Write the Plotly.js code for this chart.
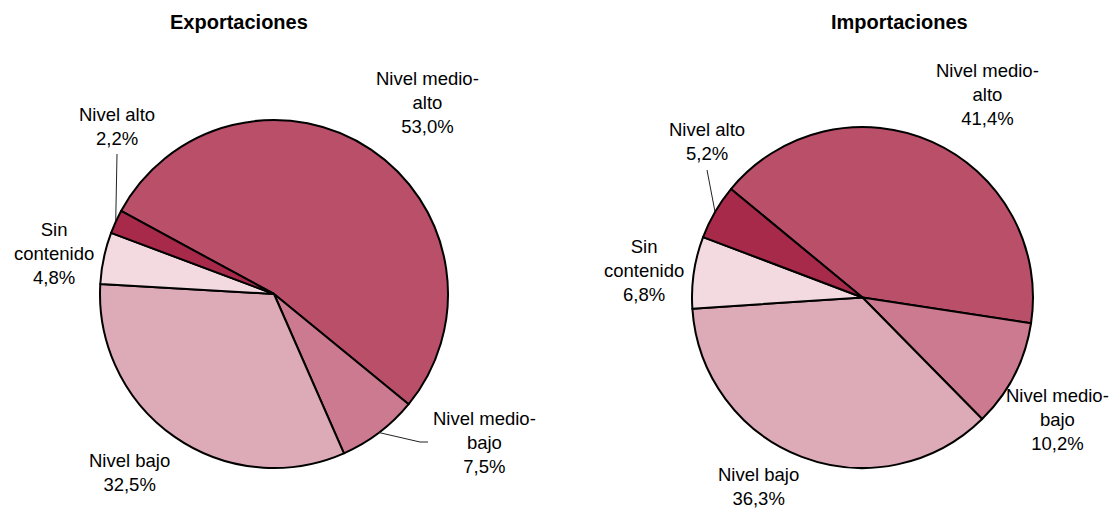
<!DOCTYPE html>
<html>
<head>
<meta charset="utf-8">
<script src="https://cdn.plot.ly/plotly-3.0.1.min.js"></script>
<style>html,body{margin:0;padding:0;background:#fff;}#chart{width:1110px;height:508px;}</style>
</head>
<body>
<div id="chart"></div>
<script>
// ---- data ----
const categories = ["Nivel medio-alto", "Nivel medio-bajo", "Nivel bajo", "Sin contenido", "Nivel alto"];
const labelText = ["Nivel medio-<br>alto", "Nivel medio-<br>bajo", "Nivel bajo", "Sin<br>contenido", "Nivel alto"];
const exportaciones = [53.0, 7.5, 32.5, 4.8, 2.2];
const importaciones = [41.4, 10.2, 36.3, 6.8, 5.2];
const chartTitles = ["Exportaciones", "Importaciones"];
const sliceColors = ["#B94F69", "#CC7A8F", "#DDAAB7", "#F2DAE0", "#A82A4A"];

// ---- layout helpers ----
const W = 1110, H = 508;
const px = x => x / W;
const py = y => 1 - y / H;
const FONT = "Liberation Sans, Arial, Helvetica, sans-serif";

const pies = [
  {values: exportaciones, rotation: -61.5, box: [100, 120, 448, 468],
   titlePos: [239, 22],
   labelPos: [[427, 103], [484, 442], [129, 472], [54, 253], [117, 126]],
   leaders: {4: [[117, 154]], 1: [[420, 442], [428, 442]]}},
  {values: importaciones, rotation: -50.5, box: [692, 127, 1033, 468],
   titlePos: [899, 22],
   labelPos: [[987, 94], [1057, 419], [758, 486], [644, 270], [707, 142]],
   leaders: {4: [[707, 170]]}}
];

const fmt = v => v.toFixed(1).replace('.', ',') + '%';

const traces = [], annotations = [], shapes = [];
pies.forEach((p, k) => {
  const [x0, y0, x1, y1] = p.box;
  traces.push({
    type: 'pie', values: p.values, labels: categories, sort: false,
    direction: 'clockwise', rotation: p.rotation, textinfo: 'none',
    hoverinfo: 'label+percent',
    marker: {colors: sliceColors, line: {color: '#000', width: 2}},
    domain: {x: [px(x0), px(x1)], y: [py(y1), py(y0)]},
    showlegend: false
  });
  annotations.push({
    xref: 'paper', yref: 'paper', x: px(p.titlePos[0]), y: py(p.titlePos[1]),
    text: '<b>' + chartTitles[k] + '</b>', showarrow: false,
    xanchor: 'center', yanchor: 'middle', font: {family: FONT, size: 20, color: '#000'}
  });
  p.values.forEach((v, i) => {
    annotations.push({
      xref: 'paper', yref: 'paper', x: px(p.labelPos[i][0]), y: py(p.labelPos[i][1]),
      text: labelText[i] + '<br>' + fmt(v), showarrow: false, align: 'center',
      xanchor: 'center', yanchor: 'middle', font: {family: FONT, size: 18.5, color: '#000'}
    });
  });
  // leader lines from slice edge (mid-angle computed from data)
  const cx = (x0 + x1) / 2, cy = (y0 + y1) / 2, r = (x1 - x0) / 2;
  const total = p.values.reduce((a, b) => a + b, 0);
  let ang = p.rotation;
  p.values.forEach((v, i) => {
    const span = v / total * 360;
    const mid = (ang + span / 2) * Math.PI / 180;
    ang += span;
    if (p.leaders[i]) {
      const sx = cx + r * Math.sin(mid), sy = cy - r * Math.cos(mid);
      let path = 'M' + px(sx) + ',' + py(sy);
      p.leaders[i].forEach(pt => { path += ' L' + px(pt[0]) + ',' + py(pt[1]); });
      shapes.push({type: 'path', xref: 'paper', yref: 'paper', path: path,
        line: {color: '#222', width: 1}});
    }
  });
});

Plotly.newPlot('chart', traces, {
  width: W, height: H, margin: {l: 0, r: 0, t: 0, b: 0},
  paper_bgcolor: '#fff', plot_bgcolor: '#fff',
  font: {family: FONT, size: 18.5, color: '#000'},
  annotations: annotations, shapes: shapes, showlegend: false
}, {displayModeBar: false, staticPlot: true});
</script>
</body>
</html>
